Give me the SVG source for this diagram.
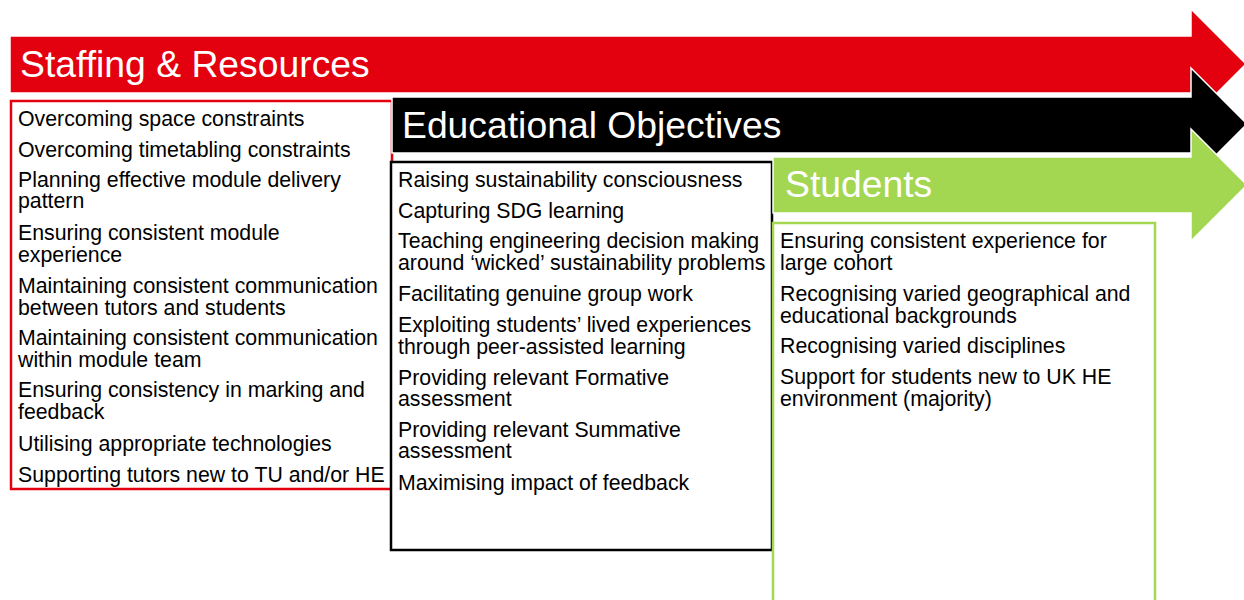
<svg xmlns="http://www.w3.org/2000/svg" width="1244" height="600" viewBox="0 0 1244 600">
  <style>
    .head { font-family: "Liberation Sans", Arial, sans-serif; font-size: 37.3px; fill: #fff; }
    .item { font-family: "Liberation Sans", Arial, sans-serif; font-size: 21.3px; fill: #000; }
    .arrow { stroke: #fff; stroke-width: 1.5; }
  </style>
  <rect width="1244" height="600" fill="#fff"/>

  <!-- Staffing & Resources -->
  <g id="staffing">
    <polygon class="arrow" fill="#E3000F" points="10,36 1191,36 1191,9 1246,64 1191,119 1191,93 10,93"/>
    <rect x="11" y="101" width="381" height="388" fill="#fff" stroke="#E3000F" stroke-width="2.5"/>
    <text class="head" x="20" y="77">Staffing &amp; Resources</text>
    <text class="item" x="18">
      <tspan x="18" y="126">Overcoming space constraints</tspan>
      <tspan x="18" y="157">Overcoming timetabling constraints</tspan>
      <tspan x="18" y="187">Planning effective module delivery</tspan>
      <tspan x="18" y="208">pattern</tspan>
      <tspan x="18" y="240">Ensuring consistent module</tspan>
      <tspan x="18" y="262">experience</tspan>
      <tspan x="18" y="293">Maintaining consistent communication</tspan>
      <tspan x="18" y="315">between tutors and students</tspan>
      <tspan x="18" y="345">Maintaining consistent communication</tspan>
      <tspan x="18" y="367">within module team</tspan>
      <tspan x="18" y="397">Ensuring consistency in marking and</tspan>
      <tspan x="18" y="419">feedback</tspan>
      <tspan x="18" y="451">Utilising appropriate technologies</tspan>
      <tspan x="18" y="482">Supporting tutors new to TU and/or HE</tspan>
    </text>
  </g>

  <!-- Educational Objectives -->
  <g id="objectives">
    <polygon class="arrow" fill="#000" points="392,97 1191,97 1191,68 1247,124 1191,180 1191,153 392,153"/>
    <rect x="391" y="162" width="381" height="388" fill="#fff" stroke="#000" stroke-width="2.5"/>
    <text class="head" x="402" y="138">Educational Objectives</text>
    <text class="item" x="398">
      <tspan x="398" y="187">Raising sustainability consciousness</tspan>
      <tspan x="398" y="218">Capturing SDG learning</tspan>
      <tspan x="398" y="248">Teaching engineering decision making</tspan>
      <tspan x="398" y="270">around ‘wicked’ sustainability problems</tspan>
      <tspan x="398" y="301">Facilitating genuine group work</tspan>
      <tspan x="398" y="332">Exploiting students’ lived experiences</tspan>
      <tspan x="398" y="354">through peer-assisted learning</tspan>
      <tspan x="398" y="385">Providing relevant Formative</tspan>
      <tspan x="398" y="406">assessment</tspan>
      <tspan x="398" y="437">Providing relevant Summative</tspan>
      <tspan x="398" y="458">assessment</tspan>
      <tspan x="398" y="490">Maximising impact of feedback</tspan>
    </text>
  </g>

  <!-- Students -->
  <g id="students">
    <polygon class="arrow" fill="#A3D651" points="773,157 1191,157 1191,129 1247,185 1191,241 1191,213 773,213"/>
    <rect x="773" y="223" width="382" height="390" fill="#fff" stroke="#A3D651" stroke-width="2.5"/>
    <text class="head" x="785" y="197">Students</text>
    <text class="item" x="780">
      <tspan x="780" y="248">Ensuring consistent experience for</tspan>
      <tspan x="780" y="270">large cohort</tspan>
      <tspan x="780" y="301">Recognising varied geographical and</tspan>
      <tspan x="780" y="323">educational backgrounds</tspan>
      <tspan x="780" y="353">Recognising varied disciplines</tspan>
      <tspan x="780" y="384">Support for students new to UK HE</tspan>
      <tspan x="780" y="406">environment (majority)</tspan>
    </text>
  </g>

  <g id="connectors"/>
</svg>
